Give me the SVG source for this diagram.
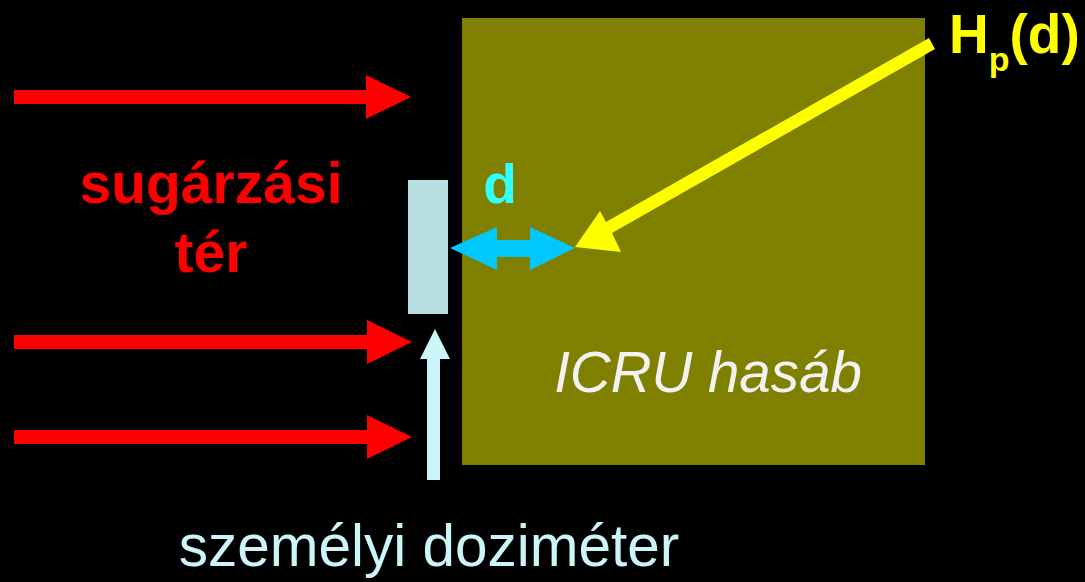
<svg xmlns="http://www.w3.org/2000/svg" width="1085" height="582" viewBox="0 0 1085 582">
  <style>
    .lbl { font-family: "Liberation Sans", Arial, sans-serif; }
    .b { font-weight: bold; }
    .red { fill: #ff0000; }
  </style>
  <rect x="0" y="0" width="1085" height="582" fill="#000000"/>

  <!-- ICRU slab -->
  <g id="icru-slab">
    <rect x="462" y="18" width="463" height="447" fill="#808000"/>
    <text class="lbl" x="708" y="392" font-size="56.5" font-style="italic" fill="#f2f2f2" text-anchor="middle">ICRU hasáb</text>
  </g>

  <!-- personal dosimeter -->
  <g id="dosimeter">
    <rect x="408" y="180" width="40" height="134" fill="#b8dfe2"/>
  </g>

  <!-- radiation field label -->
  <g id="field-label">
    <text class="lbl b red" x="211" y="203" font-size="57" text-anchor="middle">sugárzási</text>
    <text class="lbl b red" x="211" y="272" font-size="57" text-anchor="middle">tér</text>
  </g>

  <g id="depth-label">
    <text class="lbl b" x="500" y="203" font-size="55" fill="#33ffff" text-anchor="middle">d</text>
  </g>

  <g id="hp-label">
    <text class="lbl b" x="949" y="53" font-size="55" fill="#ffff00">H<tspan font-size="34" dy="18">p</tspan><tspan dy="-18">(d)</tspan></text>
  </g>

  <g id="dosimeter-label">
    <text class="lbl" x="429" y="566" font-size="58.5" fill="#ccf5fa" text-anchor="middle">személyi doziméter</text>
  </g>

  <!-- connectors -->
  <g id="connectors">
    <!-- incident field arrows -->
    <polygon class="red" points="14,90 366,90 366,75 411,97 366,119 366,104 14,104"/>
    <polygon class="red" points="14,335 367,335 367,320 412,342 367,364 367,349 14,349"/>
    <polygon class="red" points="14,430 367,430 367,415 412,437 367,459 367,444 14,444"/>
    <!-- pointer to the dosimeter -->
    <polygon fill="#ccf5fa" points="427,480 427,359 420,359 435,329 450,359 440,359 440,480"/>
    <!-- depth d double arrow -->
    <polygon fill="#00c8ff" points="450,248 497,227 497,240 530,240 530,227 575,248 530,270 530,257 497,257 497,270"/>
    <!-- Hp(d) yellow arrow -->
    <polygon fill="#ffff00" points="929,38 935,49 612,233 621,252 575,247 600,211 606,222"/>
  </g>
</svg>
